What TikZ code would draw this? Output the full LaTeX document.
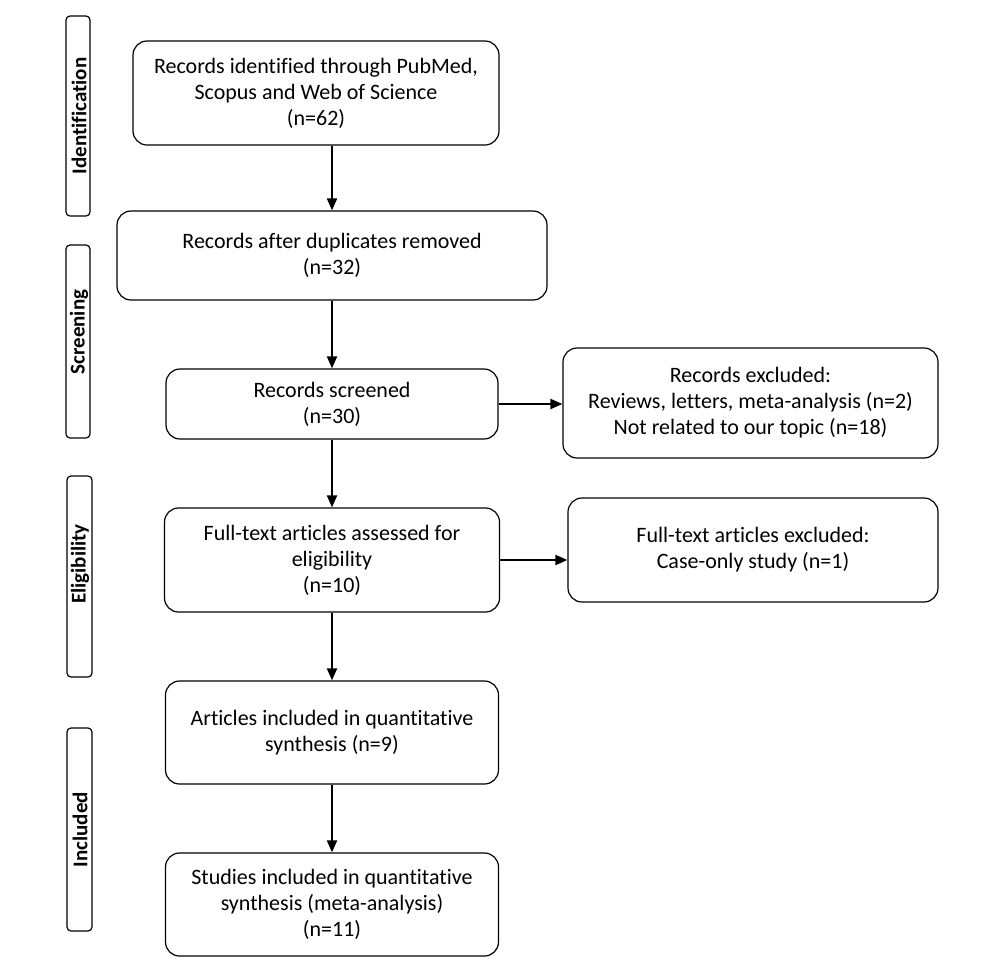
\documentclass[tikz,border=0pt]{standalone}
\usepackage{fontspec}
\setmainfont[Ligatures=NoCommon]{Carlito}
\usetikzlibrary{arrows.meta}
\begin{document}
\begin{tikzpicture}[x=1pt,y=-1pt,
  box/.style={draw=black, line width=1.2pt, rounded corners=14pt, align=center,
    inner sep=0pt, font=\fontsize{22}{26}\selectfont, text=black},
  sidebox/.style={draw=black, line width=1.2pt, rounded corners=4pt, inner sep=0pt},
  sidelbl/.style={rotate=90, inner sep=0pt, font=\fontsize{21}{24}\selectfont\bfseries, text=black},
  arr/.style={draw=black, line width=2pt, -{Triangle[length=12pt,width=10pt]}}]
\useasboundingbox[fill=white] (0,0) rectangle (1000,978);

% side boxes
\node[sidebox, minimum width=24pt, minimum height=200pt] (s1) at (78,116) {};
\node[sidebox, minimum width=24pt, minimum height=193pt] (s2) at (78,341.5) {};
\node[sidebox, minimum width=25pt, minimum height=201pt] (s3) at (79.5,576.5) {};
\node[sidebox, minimum width=25pt, minimum height=203pt] (s4) at (79.5,829.5) {};
\node[sidelbl] (l1) at (79,116) {Identification};
\node[sidelbl] (l2) at (79,332) {Screening};
\node[sidelbl] (l3) at (80,564) {Eligibility};
\node[sidelbl] (l4) at (80,829.5) {Included};

% main boxes
\node[box, minimum width=366pt, minimum height=104pt] (b1) at (316,93)
  {Records identified through PubMed,\\Scopus and Web of Science\\(n=62)};
\node[box, minimum width=430pt, minimum height=89pt] (b2) at (332,255.5)
  {Records after duplicates removed\\(n=32)};
\node[box, minimum width=332pt, minimum height=70pt] (b3) at (332,404)
  {Records screened\\(n=30)};
\node[box, minimum width=335pt, minimum height=104pt] (b4) at (332,560)
  {Full-text articles assessed for\\eligibility\\(n=10)};
\node[box, minimum width=375pt, minimum height=110pt] (b5) at (750.5,403)
  {Records excluded:\\Reviews, letters, meta-analysis (n=2)\\Not related to our topic (n=18)};
\node[box, minimum width=370pt, minimum height=104pt] (b6) at (753,550)
  {Full-text articles excluded:\\Case-only study (n=1)};
\node[box, minimum width=333pt, minimum height=103pt] (b7) at (332,732.5)
  {Articles included in quantitative\\synthesis (n=9)};
\node[box, minimum width=333pt, minimum height=103pt] (b8) at (332,904.5)
  {Studies included in quantitative\\synthesis (meta-analysis)\\(n=11)};

% connectors
\draw[arr] (b2.north |- b1.south) -- (b2.north);
\draw[arr] (b2.south) -- (b3.north);
\draw[arr] (b3.south) -- (b4.north);
\draw[arr] (b4.south) -- (b7.north);
\draw[arr] (b7.south) -- (b8.north);
\draw[arr] (b3.east) -- (b3.east -| b5.west);
\draw[arr] (b4.east) -- (b4.east -| b6.west);
\end{tikzpicture}
\end{document}
